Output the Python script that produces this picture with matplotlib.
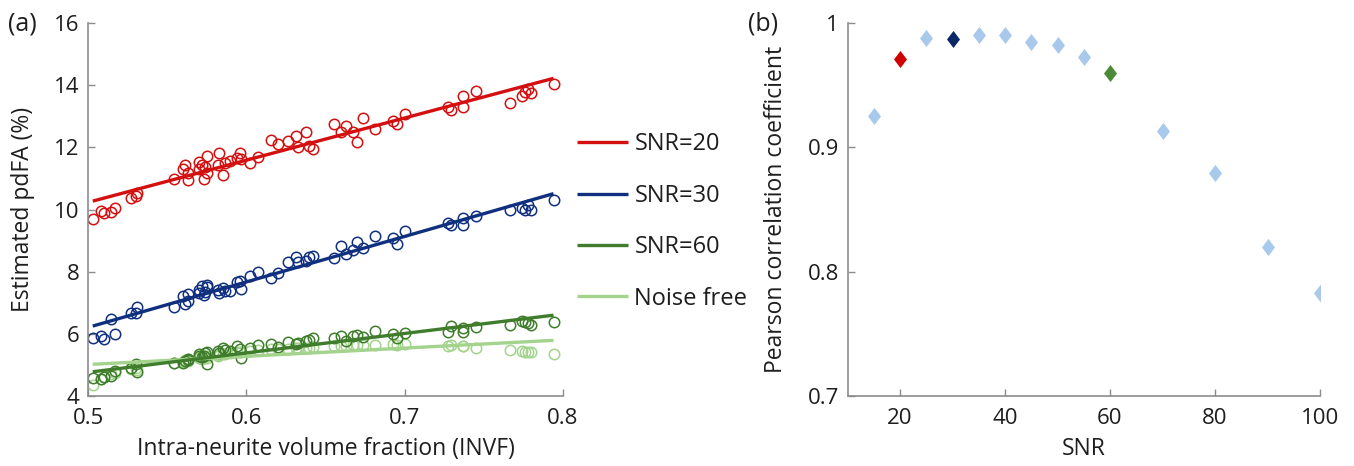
import matplotlib
matplotlib.use("Agg")
import matplotlib.pyplot as plt
from matplotlib.path import Path
import numpy as np

plt.rcParams['font.family'] = ['Open Sans', 'DejaVu Sans']

# ---------------- data: panel (a) ----------------
invf = [0.503, 0.508, 0.510, 0.5145, 0.517, 0.527, 0.530, 0.531, 0.554, 0.560,
        0.5615, 0.563, 0.5632, 0.570, 0.5703, 0.572, 0.5733, 0.5741, 0.575, 0.5754,
        0.5826, 0.5821, 0.5851, 0.5867, 0.5897, 0.5939, 0.596, 0.5965, 0.6023, 0.6074,
        0.6156, 0.620, 0.6263, 0.6314, 0.6329, 0.6377, 0.6398, 0.642, 0.6554, 0.660,
        0.663, 0.6676, 0.6697, 0.6739, 0.6813, 0.6929, 0.695, 0.7003, 0.7274, 0.7291,
        0.7367, 0.7371, 0.7449, 0.7666, 0.774, 0.776, 0.7782, 0.7797, 0.7944]
pdfa_snr20 = [9.69, 9.95, 9.90, 9.92, 10.04, 10.36, 10.43, 10.54, 10.97, 11.29,
              11.43, 11.18, 10.94, 11.29, 11.54, 11.43, 10.97, 11.38, 11.72, 11.18,
              11.81, 11.43, 11.11, 11.49, 11.56, 11.67, 11.81, 11.63, 11.50, 11.69,
              12.24, 12.12, 12.20, 12.35, 12.01, 12.48, 12.04, 11.96, 12.76, 12.49,
              12.69, 12.50, 12.17, 12.95, 12.60, 12.85, 12.76, 13.08, 13.30, 13.19,
              13.65, 13.30, 13.81, 13.42, 13.65, 13.79, 13.87, 13.76, 14.05]
pdfa_snr30 = [5.85, 5.93, 5.82, 6.47, 5.98, 6.66, 6.68, 6.87, 6.86, 7.22,
              6.95, 7.06, 7.29, 7.32, 7.40, 7.54, 7.25, 7.35, 7.57, 7.50,
              7.32, 7.40, 7.48, 7.38, 7.38, 7.68, 7.70, 7.43, 7.86, 7.99,
              7.79, 7.97, 8.32, 8.47, 8.32, 8.34, 8.47, 8.50, 8.43, 8.82,
              8.58, 8.69, 8.96, 8.77, 9.15, 9.07, 8.90, 9.31, 9.57, 9.50,
              9.74, 9.50, 9.79, 10.00, 10.04, 10.00, 10.14, 9.97, 10.30]
pdfa_snr60 = [4.59, 4.54, 4.62, 4.64, 4.80, 4.91, 5.02, 4.78, 5.07, 5.07,
              5.12, 5.20, 5.15, 5.29, 5.35, 5.25, 5.30, 5.38, 5.42, 5.04,
              5.39, 5.45, 5.53, 5.48, 5.45, 5.61, 5.50, 5.23, 5.55, 5.64,
              5.68, 5.59, 5.75, 5.67, 5.72, 5.77, 5.80, 5.85, 5.87, 5.93,
              5.77, 5.93, 5.96, 5.90, 6.09, 5.98, 5.88, 6.04, 6.07, 6.25,
              6.07, 6.20, 6.22, 6.27, 6.41, 6.38, 6.35, 6.30, 6.38]
pdfa_noisefree = [4.35, 4.55, 4.60, 4.70, 4.75, 4.86, 4.90, 4.85, 5.07, 5.10,
                  5.15, 5.12, 5.18, 5.22, 5.25, 5.20, 5.28, 5.25, 5.23, 5.30,
                  5.32, 5.30, 5.34, 5.36, 5.38, 5.40, 5.42, 5.40, 5.45, 5.48,
                  5.50, 5.50, 5.52, 5.55, 5.53, 5.56, 5.55, 5.57, 5.60, 5.62,
                  5.62, 5.63, 5.63, 5.64, 5.65, 5.66, 5.65, 5.66, 5.62, 5.63,
                  5.60, 5.61, 5.55, 5.47, 5.44, 5.43, 5.42, 5.42, 5.34]
# regression line end points
fit_x = [0.503, 0.794]
fit_snr20 = [10.27, 14.22]
fit_snr30 = [6.25, 10.51]
fit_snr60 = [4.78, 6.60]
fit_noisefree = [5.02, 5.79]
series_labels = ['SNR=20', 'SNR=30', 'SNR=60', 'Noise free']

# ---------------- data: panel (b) ----------------
snr = [15, 20, 25, 30, 35, 40, 45, 50, 55, 60, 70, 80, 90, 100]
pearson_r = [0.925, 0.971, 0.988, 0.987, 0.990, 0.990, 0.985, 0.982, 0.973,
             0.960, 0.913, 0.879, 0.820, 0.783]
highlight_snr = [20, 30, 60]

c_red = '#d40f0f'
c_blue = '#10307f'
c_green = '#3f7d2c'
c_light = '#a3d38c'
c_diam = '#a8c9ec'
c_diam_hi = {20: '#d00000', 30: '#0a2868', 60: '#4b8a37'}
spine_c = '#8c8c8c'
txt_c = '#1e1e1e'
FS_TICK = 16
FS_LAB = 16.5
FS_LEG = 17
FS_PANEL = 18

fig = plt.figure(figsize=(13.54, 4.66), dpi=100)
W, H = 1354, 466
TOP, BOT = 23, 396
axa = fig.add_axes([88 / W, (H - BOT) / H, (563 - 88) / W, (BOT - TOP) / H])
axb = fig.add_axes([847.5 / W, (H - BOT) / H, (1320 - 847.5) / W, (BOT - TOP) / H])

series = [(pdfa_snr20, fit_snr20, c_red), (pdfa_snr30, fit_snr30, c_blue),
          (pdfa_snr60, fit_snr60, c_green), (pdfa_noisefree, fit_noisefree, c_light)]
handles = []
for (vals, fit, col), lab in zip(series[::-1], series_labels[::-1]):
    axa.plot(invf, vals, 'o', mfc='none', mec=col, ms=7.5, mew=1.1, zorder=2)
for (vals, fit, col), lab in zip(series[::-1], series_labels[::-1]):
    h, = axa.plot(fit_x, fit, '-', color=col, lw=2.4, label=lab, zorder=3,
                  solid_capstyle='butt')
    handles.append(h)
handles = handles[::-1]

axa.set_xlim(0.5, 0.8)
axa.set_ylim(4, 16)
axa.set_xticks([0.5, 0.6, 0.7, 0.8])
axa.set_xticklabels(['0.5', '0.6', '0.7', '0.8'])
axa.set_yticks([4, 6, 8, 10, 12, 14, 16])
axa.set_xlabel('Intra-neurite volume fraction (INVF)', fontsize=FS_LAB, color=txt_c, labelpad=5.5)
axa.set_ylabel('Estimated pdFA (%)', fontsize=FS_LAB, color=txt_c)
axa.yaxis.set_label_coords(-0.112, 0.5)

leg = fig.legend(handles=handles, labels=series_labels, loc='upper left',
                 bbox_to_anchor=(567.5 / W, (H - 123) / H), frameon=False,
                 fontsize=FS_LEG, handlelength=2.16, handletextpad=0.27,
                 labelspacing=1.16, borderaxespad=0)
for t in leg.get_texts():
    t.set_color(txt_c)

# panel (b)
diamond = Path([(0, 1), (0.76, 0), (0, -1), (-0.76, 0), (0, 1)],
               [Path.MOVETO, Path.LINETO, Path.LINETO, Path.LINETO, Path.CLOSEPOLY])
for s, r in zip(snr, pearson_r):
    col = c_diam_hi.get(s, c_diam)
    axb.plot([s], [r], linestyle='none', marker=diamond, ms=12.3, mfc=col, mec='none')
axb.set_xlim(10, 100)
axb.set_ylim(0.7, 1.0)
axb.set_xticks([20, 40, 60, 80, 100])
axb.set_yticks([0.7, 0.8, 0.9, 1.0])
axb.set_yticklabels(['0.7', '0.8', '0.9', '1'])
axb.set_xlabel('SNR', fontsize=FS_LAB, color=txt_c, labelpad=5.5)
axb.set_ylabel('Pearson correlation coefficient', fontsize=FS_LAB, color=txt_c)
axb.yaxis.set_label_coords(-0.126, 0.5)

for ax in (axa, axb):
    for side in ('top', 'right'):
        ax.spines[side].set_visible(False)
    for side in ('left', 'bottom'):
        ax.spines[side].set_color(spine_c)
        ax.spines[side].set_linewidth(1.2)
    ax.tick_params(direction='in', length=5, width=1.0, color=spine_c,
                   labelsize=FS_TICK, labelcolor=txt_c)
    ax.tick_params(axis='x', pad=9)
    ax.tick_params(axis='y', pad=6)
    ax.set_facecolor('none')

fig.text(8 / W, (H - 24) / H, '(a)', fontsize=FS_PANEL, color=txt_c, va='center', ha='left')
fig.text(748 / W, (H - 24) / H, '(b)', fontsize=FS_PANEL, color=txt_c, va='center', ha='left')

fig.savefig('out.png', dpi=100)
